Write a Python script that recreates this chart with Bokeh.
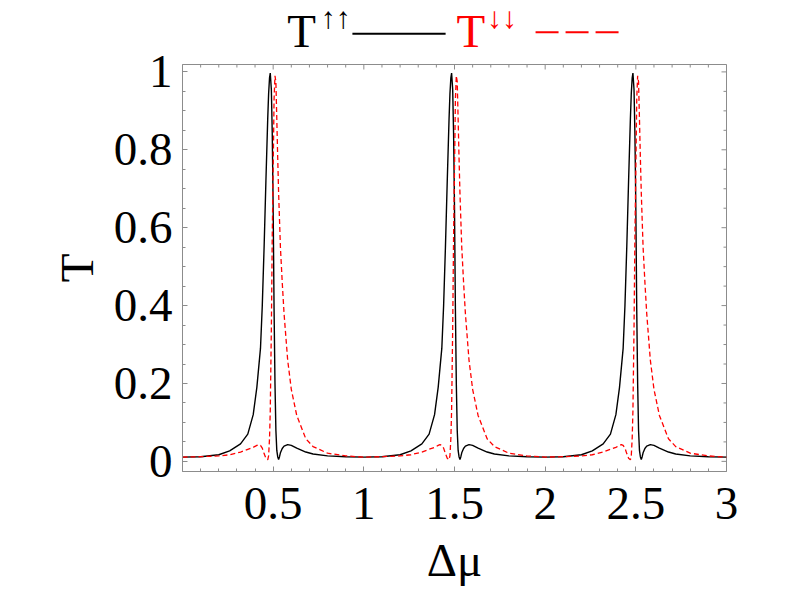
import math
from bokeh.plotting import figure
from bokeh.layouts import column
from bokeh.models import FixedTicker, Range1d
from bokeh.core.properties import value
from bokeh.embed import file_html
from bokeh.resources import INLINE

# ---- data (Delta mu, transmission) ----
delta_mu = [
    0.00, 0.10, 0.20, 0.26, 0.32, 0.36, 0.39, 0.41, 0.42, 0.43, 0.44, 0.45, 0.46, 0.47, 0.475, 0.48, 0.484,
    0.49, 0.495, 0.50, 0.505, 0.51, 0.515, 0.52, 0.525, 0.53, 0.535, 0.54, 0.55, 0.56, 0.58, 0.60, 0.63,
    0.68, 0.72, 0.80, 0.90,
    1.00, 1.10, 1.20, 1.26, 1.32, 1.36, 1.39, 1.41, 1.42, 1.43, 1.44, 1.45, 1.46, 1.47, 1.475, 1.48, 1.484,
    1.49, 1.495, 1.50, 1.505, 1.51, 1.515, 1.52, 1.525, 1.53, 1.535, 1.54, 1.55, 1.56, 1.58, 1.60, 1.63,
    1.68, 1.72, 1.80, 1.90,
    2.00, 2.10, 2.20, 2.26, 2.32, 2.36, 2.39, 2.41, 2.42, 2.43, 2.44, 2.45, 2.46, 2.47, 2.475, 2.48, 2.484,
    2.49, 2.495, 2.50, 2.505, 2.51, 2.515, 2.52, 2.525, 2.53, 2.535, 2.54, 2.55, 2.56, 2.58, 2.60, 2.63,
    2.68, 2.72, 2.80, 2.90,
    3.00,
]

t_upup = [
    0.011, 0.012, 0.017, 0.027, 0.045, 0.070, 0.120, 0.190, 0.240, 0.290, 0.400, 0.550, 0.720, 0.880, 0.945, 0.985, 0.997,
    0.955, 0.840, 0.650, 0.390, 0.200, 0.080, 0.028, 0.012, 0.005, 0.012, 0.022, 0.033, 0.039, 0.043, 0.041, 0.034,
    0.024, 0.019, 0.014, 0.012,
    0.011, 0.012, 0.017, 0.027, 0.045, 0.070, 0.120, 0.190, 0.240, 0.290, 0.400, 0.550, 0.720, 0.880, 0.945, 0.985, 0.997,
    0.955, 0.840, 0.650, 0.390, 0.200, 0.080, 0.028, 0.012, 0.005, 0.012, 0.022, 0.033, 0.039, 0.043, 0.041, 0.034,
    0.024, 0.019, 0.014, 0.012,
    0.011, 0.012, 0.017, 0.027, 0.045, 0.070, 0.120, 0.190, 0.240, 0.290, 0.400, 0.550, 0.720, 0.880, 0.945, 0.985, 0.997,
    0.955, 0.840, 0.650, 0.390, 0.200, 0.080, 0.028, 0.012, 0.005, 0.012, 0.022, 0.033, 0.039, 0.043, 0.041, 0.034,
    0.024, 0.019, 0.014, 0.012,
    0.011,
]

t_downdown = [
    0.011, 0.012, 0.014, 0.017, 0.024, 0.031, 0.036, 0.041, 0.043, 0.041, 0.034, 0.020, 0.008, 0.004, 0.015, 0.060, 0.130,
    0.340, 0.580, 0.750, 0.930, 0.990, 0.975, 0.880, 0.780, 0.690, 0.620, 0.550, 0.460, 0.380, 0.260, 0.185, 0.118,
    0.058, 0.038, 0.021, 0.014,
    0.011, 0.012, 0.014, 0.017, 0.024, 0.031, 0.036, 0.041, 0.043, 0.041, 0.034, 0.020, 0.008, 0.004, 0.015, 0.060, 0.130,
    0.340, 0.580, 0.750, 0.930, 0.990, 0.975, 0.880, 0.780, 0.690, 0.620, 0.550, 0.460, 0.380, 0.260, 0.185, 0.118,
    0.058, 0.038, 0.021, 0.014,
    0.011, 0.012, 0.014, 0.017, 0.024, 0.031, 0.036, 0.041, 0.043, 0.041, 0.034, 0.020, 0.008, 0.004, 0.015, 0.060, 0.130,
    0.340, 0.580, 0.750, 0.930, 0.990, 0.975, 0.880, 0.780, 0.690, 0.620, 0.550, 0.460, 0.380, 0.260, 0.185, 0.118,
    0.058, 0.038, 0.021, 0.014,
    0.011,
]

x_ticks = [0.5, 1, 1.5, 2, 2.5, 3]
x_tick_labels = ["0.5", "1", "1.5", "2", "2.5", "3"]
x_minor = [0.1, 0.2, 0.3, 0.4, 0.6, 0.7, 0.8, 0.9, 1.1, 1.2, 1.3, 1.4, 1.6, 1.7, 1.8, 1.9,
           2.1, 2.2, 2.3, 2.4, 2.6, 2.7, 2.8, 2.9]
y_ticks = [0, 0.2, 0.4, 0.6, 0.8, 1]
y_tick_labels = ["0", "0.2", "0.4", "0.6", "0.8", "1"]
y_minor = [0.05, 0.1, 0.15, 0.25, 0.3, 0.35, 0.45, 0.5, 0.55, 0.65, 0.7, 0.75, 0.85, 0.9, 0.95]

series_names = ["T", "T"]
series_marks = ["↑↑", "↓↓"]
series_colors = ["black", "#ff0000"]

FONT = "Liberation Serif"
GRAY = "#8c8c8c"
W = 790
TITLE_H = 60
OVERLAP = 16
MAIN_H = 592 - TITLE_H + OVERLAP

# ---------------- title strip (legend-like heading) ----------------
t = figure(width=W, height=TITLE_H, output_backend="svg", toolbar_location=None,
           x_range=Range1d(0, 3), y_range=Range1d(TITLE_H, 0),
           x_axis_location=None, y_axis_location=None,
           min_border_left=182, min_border_right=64, min_border_top=0, min_border_bottom=0)
t.grid.visible = False
t.outline_line_color = None

t.text(x=[0.578, 1.511], y=[30, 30], text=series_names, text_font=value(FONT),
       text_font_size="47px", text_color=series_colors, text_baseline="alphabetic")
t.text(x=[0.762, 1.679], y=[17, 17], text=series_marks, text_font=value(FONT),
       text_font_size="30px", text_color=series_colors, text_baseline="alphabetic")
t.line(x=[0.937, 1.451], y=[33.3, 33.3], line_color="black", line_width=2)
t.line(x=[1.947, 2.407], y=[31.7, 31.7], line_color="#ff0000", line_width=2, line_dash="23 7")

# ---------------- main plot ----------------
p = figure(width=W, height=MAIN_H, output_backend="svg", toolbar_location=None,
           x_range=Range1d(0, 3), y_range=Range1d(-0.026, 1.019),
           min_border_left=182, min_border_right=64, min_border_top=4 + OVERLAP, min_border_bottom=121,
           margin=(-OVERLAP, 0, 0, 0))
p.grid.visible = False
p.border_fill_alpha = 0
p.outline_line_color = GRAY
p.outline_line_width = 1

p.line(delta_mu, t_upup, line_color=series_colors[0], line_width=1.4)
p.line(delta_mu, t_downdown, line_color=series_colors[1], line_width=1.3, line_dash="5 3")

xa = p.xaxis[0]
ya = p.yaxis[0]
for ax, ticks, minor, labels in ((xa, x_ticks, x_minor, x_tick_labels),
                                 (ya, y_ticks, y_minor, y_tick_labels)):
    ax.ticker = FixedTicker(ticks=ticks, minor_ticks=minor)
    ax.axis_line_color = GRAY
    ax.major_tick_line_color = GRAY
    ax.minor_tick_line_color = GRAY
    ax.major_tick_in = 5
    ax.major_tick_out = 0
    ax.minor_tick_in = 3
    ax.minor_tick_out = 0
    ax.major_label_overrides = dict(zip(ticks, labels))
    ax.major_label_text_font = FONT
    ax.major_label_text_font_size = "47px"
    ax.major_label_text_color = "black"
    ax.axis_label_text_font = FONT
    ax.axis_label_text_font_style = "normal"
    ax.axis_label_text_color = "black"

xa.major_label_standoff = 16
ya.major_label_standoff = 10

xa.axis_label = "Δμ"
xa.axis_label_text_font_size = "47px"
xa.axis_label_standoff = 12

ya.axis_label = "T"
ya.axis_label_text_font_size = "47px"
ya.axis_label_standoff = 8

# mirrored inward ticks on the top and right frame edges (half of each dash is clipped by the frame)
x_top = p.y_range.end
y_right = p.x_range.end
p.scatter(x=x_ticks, y=[x_top] * len(x_ticks), marker="dash", angle=math.pi / 2, size=10,
          line_color=GRAY, line_width=1)
p.scatter(x=x_minor, y=[x_top] * len(x_minor), marker="dash", angle=math.pi / 2, size=6,
          line_color=GRAY, line_width=1)
p.scatter(x=[y_right] * len(y_ticks), y=y_ticks, marker="dash", size=10, line_color=GRAY, line_width=1)
p.scatter(x=[y_right] * len(y_minor), y=y_minor, marker="dash", size=6, line_color=GRAY, line_width=1)

layout = column(t, p, spacing=0)
open("out.html", "w").write(file_html(layout, INLINE))
